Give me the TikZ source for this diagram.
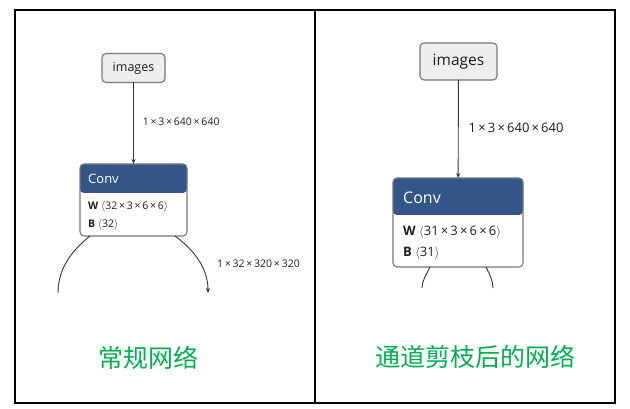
\documentclass[tikz,border=0pt]{standalone}
\usepackage{fontspec}
\setmainfont{Open Sans}
\newfontfamily\cjk{Noto Sans CJK SC}
\usetikzlibrary{arrows.meta}
\definecolor{ink}{HTML}{1E1E1E}
\definecolor{convblue}{HTML}{335588}
\definecolor{boxgray}{HTML}{EEEEEE}
\definecolor{edgegray}{HTML}{777777}
\definecolor{capgreen}{HTML}{00B050}

\begin{document}
\begin{tikzpicture}[x=1pt,y=-1pt,text=ink,>={Stealth[length=5pt,width=4pt]},
  inbox/.style={draw=edgegray,fill=boxgray,line width=1.1pt,
    rounded corners=4pt,inner sep=0pt,outer sep=0pt},
  opbox/.style={draw=edgegray,fill=white,line width=1.1pt,
    rounded corners=4pt,inner sep=0pt,outer sep=0pt,
    path picture={\fill[convblue] (path picture bounding box.north west)
      rectangle ([yshift=-#1]path picture bounding box.north east);}},
  edge/.style={draw=ink!90,line width=0.9pt},
  dims/.style={anchor=west,inner sep=0pt},
  caption/.style={text=capgreen,inner sep=0pt}]
  \useasboundingbox (0,0) rectangle (630,409);

  % frame
  \draw[line width=2pt] (15,10) rectangle (615,403);
  \draw[line width=2pt] (315,10) -- (315,403);

  % ordinary network
  \node[inbox,minimum width=63pt,minimum height=29pt,
    font=\fontsize{12.5}{12.5}\selectfont] (imgA) at (133.5,68) {images};
  \node[opbox=29pt,minimum width=107pt,minimum height=72pt]
    (convA) at (133.5,200) {};
  \node[dims,text=white,font=\fontsize{13}{13}\selectfont]
    (convAname) at (88,179) {Conv};
  \node[dims,font=\fontsize{10.5}{10.5}\selectfont]
    (convAw) at (88,207) {\textbf{W}\ $\langle$32\,×\,3\,×\,6\,×\,6$\rangle$};
  \node[dims,font=\fontsize{10.5}{10.5}\selectfont]
    (convAb) at (88,225) {\textbf{B}\ $\langle$32$\rangle$};
  \draw[edge,->] (imgA) -- (convA)
    node[dims,pos=0.48,xshift=9pt,font=\fontsize{10.5}{10.5}\selectfont] (dimA)
    {1\,×\,3\,×\,640\,×\,640};
  \coordinate (outAl) at (58,293);
  \coordinate (outAr) at (208,293);
  \draw[edge] ([xshift=-43.5pt]convA.south)
    .. controls (70,252) and (58,270) .. (outAl);
  \draw[edge,->] ([xshift=41.5pt]convA.south)
    .. controls (194,250) and (208,268) .. (outAr);
  \node[dims,font=\fontsize{10.5}{10.5}\selectfont] (dimAout) at (217,264)
    {1\,×\,32\,×\,320\,×\,320};
  \node[caption,font=\cjk\fontsize{25}{25}\selectfont] (capA) at (148,358)
    {常规网络};

  % pruned network
  \node[inbox,minimum width=77pt,minimum height=37pt,
    font=\fontsize{15.5}{15.5}\selectfont] (imgB) at (458.5,61.5) {images};
  \node[opbox=37pt,minimum width=130pt,minimum height=89pt]
    (convB) at (458,222.5) {};
  \node[dims,text=white,font=\fontsize{16}{16}\selectfont]
    (convBname) at (403,198) {Conv};
  \node[dims,font=\fontsize{13}{13}\selectfont]
    (convBw) at (403,232) {\textbf{W}\ $\langle$31\,×\,3\,×\,6\,×\,6$\rangle$};
  \node[dims,font=\fontsize{13}{13}\selectfont]
    (convBb) at (403,253) {\textbf{B}\ $\langle$31$\rangle$};
  \draw[edge,->] (imgB) -- (convB)
    node[dims,pos=0.49,xshift=10pt,font=\fontsize{13}{13}\selectfont] (dimB)
    {1\,×\,3\,×\,640\,×\,640};
  \coordinate (outBl) at (422,288);
  \coordinate (outBr) at (493,288);
  \draw[edge] ([xshift=-28pt]convB.south)
    .. controls (426,275) and (422,281) .. (outBl);
  \draw[edge] ([xshift=28pt]convB.south)
    .. controls (490,275) and (493,281) .. (outBr);
  \node[caption,font=\cjk\fontsize{25}{25}\selectfont] (capB) at (475.5,357)
    {通道剪枝后的网络};
\end{tikzpicture}
\end{document}
